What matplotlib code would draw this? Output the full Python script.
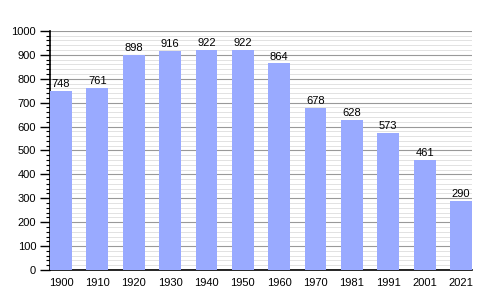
import numpy as np
from matplotlib import pyplot as plt
from matplotlib.ticker import MultipleLocator

plt.rcParams['font.family'] = ['Liberation Sans', 'DejaVu Sans']

years = ['1900', '1910', '1920', '1930', '1940', '1950', '1960', '1970', '1981', '1991', '2001', '2021']
population = [748, 761, 898, 916, 922, 922, 864, 678, 628, 573, 461, 290]

fig = plt.figure(figsize=(5, 3), dpi=100)
ax = fig.add_axes([0.1, 0.1, 0.844, 0.797])

x = np.arange(len(years))
ax.bar(x, population, width=0.6, color='#99aaff', zorder=3)
for xi, v in zip(x, population):
    ax.text(xi, v + 8, str(v), ha='center', va='bottom', fontsize=8, zorder=4)

ax.set_xlim(-0.3, len(years) - 0.7)
ax.set_ylim(0, 1000)
ax.set_xticks(x)
ax.set_xticklabels(years)
ax.yaxis.set_major_locator(MultipleLocator(100))
ax.yaxis.set_minor_locator(MultipleLocator(20))
ax.grid(axis='y', which='major', color='#999999', linewidth=0.8, zorder=0)
ax.grid(axis='y', which='minor', color='#dddddd', linewidth=0.6, zorder=0)
ax.tick_params(axis='both', labelsize=8)
ax.tick_params(axis='x', length=0, pad=6)
ax.tick_params(axis='y', which='major', length=7, width=1, direction='out', pad=3)
ax.tick_params(axis='y', which='minor', length=3, width=0.8, direction='out')
for s in ['top', 'right']:
    ax.spines[s].set_visible(False)
ax.spines['left'].set_linewidth(1.2)
ax.spines['bottom'].set_linewidth(1.2)

fig.savefig('out.png', dpi=100)
